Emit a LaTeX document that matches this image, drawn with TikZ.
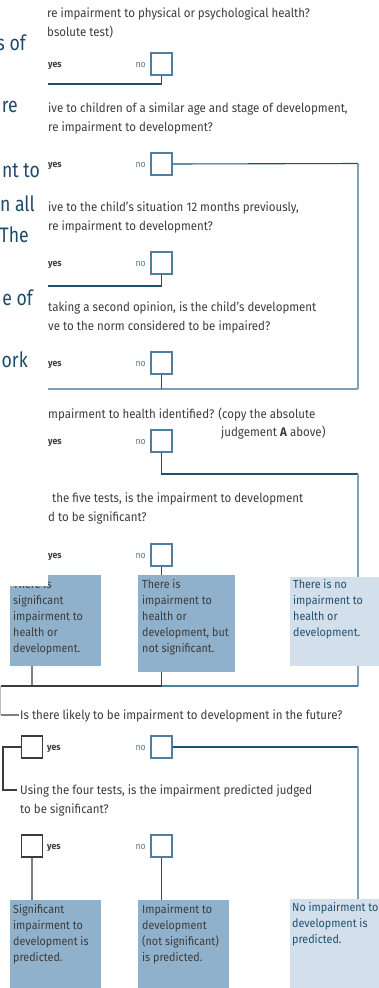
\documentclass[tikz,border=0pt]{standalone}
\usepackage{fontspec}
\setmainfont{Fira Sans}[FakeStretch=0.92]
\newfontfamily\headfont{Fira Sans}[FakeStretch=0.84]
\definecolor{navy}{HTML}{1F5173}
\definecolor{steel}{HTML}{4F7E9E}
\definecolor{pale}{HTML}{7FA1B7}
\definecolor{boxdark}{HTML}{90B1CB}
\definecolor{boxlight}{HTML}{D3DFEA}
\definecolor{ink}{HTML}{3C3C3C}
\definecolor{headblue}{HTML}{1E4A6A}
\tikzset{
  tickbox/.style={draw=steel, line width=1.3pt, fill=white, minimum width=21pt, minimum height=22pt, inner sep=0pt},
  yesbox/.style={tickbox, draw=ink},
  qtxt/.style={anchor=base west, align=left, inner sep=0pt, text=ink, font=\fontsize{12.5}{19}\selectfont},
  headtxt/.style={anchor=base east, inner sep=0pt, text=headblue, font=\headfont\fontsize{21}{25}\selectfont},
  yeslbl/.style={anchor=base west, inner sep=0pt, text=ink, font=\fontsize{9.5}{11}\selectfont\bfseries},
  nolbl/.style={anchor=base east, inner sep=0pt, text=steel, font=\fontsize{9.5}{11}\selectfont},
  outcome/.style={anchor=north west, fill=boxdark, inner sep=0pt},
  paleout/.style={outcome, fill=boxlight},
  boxtxt/.style={anchor=base west, align=left, inner sep=0pt, text=ink, font=\fontsize{11.7}{16}\selectfont},
  nopath/.style={draw=navy, line width=1.1pt},
  sidepath/.style={draw=pale, line width=1.3pt},
  yespath/.style={draw=gray, line width=1.1pt},
  darkpath/.style={draw=ink, line width=1.1pt}
}
\begin{document}
\begin{tikzpicture}[x=1pt,y=-1pt]
\useasboundingbox (0,0) rectangle (379,988);
% heading, cut off at the left
\node[headtxt] (h1) at (26,50) {s of};
\node[headtxt] (h2) at (18,112) {re};
\node[headtxt] (h3) at (40,177) {nt to};
\node[headtxt] (h4) at (35,211) {n all};
\node[headtxt] (h5) at (29,242) {The};
\node[headtxt] (h6) at (33,305) {e of};
\node[headtxt] (h7) at (28,367) {ork};

% questions (base = last line)
\node[qtxt] (q1) at (47,36) {re impairment to physical or psychological health?\\bsolute test)};
\node[qtxt] (q2) at (48,131) {ive to children of a similar age and stage of development,\\re impairment to development?};
\node[qtxt] (q3) at (48,230) {ive to the child's situation 12 months previously,\\re impairment to development?};
\node[qtxt] (q4) at (48,330) {taking a second opinion, is the child's development\\ve to the norm considered to be impaired?};
\node[qtxt] (q5) at (48,418) {mpairment to health identified? (copy the absolute};
\node[qtxt] (q5b) at (221,436) {judgement \textbf{A} above)};
\node[qtxt] (q6) at (52,502) {the five tests, is the impairment to development};
\node[qtxt] (q6b) at (48,521) {d to be significant?};
\node[qtxt] (q7) at (20,719) {Is there likely to be impairment to development in the future?};
\node[qtxt] (q8) at (20,813) {Using the four tests, is the impairment predicted judged\\to be significant?};

% tick boxes
\foreach \i/\y in {1/64,2/164,3/263,4/363,5/441,6/555,7/747,8/846}{
  \node[tickbox] (n\i) at (161.5,\y) {};
  \node[nolbl] at (146,\y+3) {no};
}
\foreach \i/\y in {1/64,2/164,3/263,4/363,5/441,6/555}
  \node[yeslbl] at (48,\y+3) {yes};
\node[yesbox] (y7) at (32,747) {};
\node[yesbox] (y8) at (32,846) {};
\node[yeslbl] at (47,750) {yes};
\node[yeslbl] at (47,849) {yes};

% outcomes
\node[outcome, minimum width=91pt, minimum height=91pt] (sig1) at (10,575) {};
\node[outcome, minimum width=97pt, minimum height=97pt] (part1) at (138,575) {};
\node[paleout, minimum width=89pt, minimum height=89pt] (none1) at (290,577) {};
\node[boxtxt] (sig1t) at (13,652) {There is\\significant\\impairment to\\health or\\development.};
\fill[white] (10,574) rectangle (48,586);
\node[boxtxt] (part1t) at (142,652) {There is\\impairment to\\health or\\development, but\\not significant.};
\node[boxtxt, text=navy] (none1t) at (293,636) {There is no\\impairment to\\health or\\development.};

\node[outcome, minimum width=91pt, minimum height=88pt] (sig2) at (10,900) {};
\node[outcome, minimum width=91pt, minimum height=88pt] (part2) at (138,900) {};
\node[paleout, minimum width=89pt, minimum height=89pt] (none2) at (290,899) {};
\node[boxtxt] (sig2t) at (13,961) {Significant\\impairment to\\development is\\predicted.};
\node[boxtxt] (part2t) at (142,961) {Impairment to\\development\\(not significant)\\is predicted.};
\node[boxtxt, text=navy] (none2t) at (292,943) {No impairment to\\development is\\predicted.};

% connectors
\coordinate (l1) at (48,84);
\coordinate (r2) at (358,163.5);
\coordinate (l3) at (48,286);
\coordinate (l4) at (48,389);
\coordinate (r4) at (358,389);
\coordinate (r5) at (358,474);
\coordinate (j0) at (0.5,686);
\coordinate (j) at (161.5,686);
\coordinate (k1) at (19,715);
\coordinate (k3) at (3,790);
\coordinate (k4) at (17,790);
\coordinate (r7) at (358,747);

\draw[nopath] (n1.south) |- (l1);
\draw[nopath] (n2.east) -- (r2);
\draw[sidepath] (r2) -- (r4);
\draw[nopath] (n3.south) |- (l3);
\draw[sidepath] (l4) -- (r4);
\draw[nopath] (n4.south) -- (n4.south |- l4);
\draw[nopath] (n5.south) |- (r5);
\draw[sidepath] (r5) -- (r5 |- none1.north);
\draw[nopath] (n6.south) -- (n6.south |- part1.north);

\draw[yespath] (y7 |- sig1.south) -- (y7 |- j);
\draw[nopath] (j |- part1.south) -- (j);
\draw[sidepath] (r5 |- none1.south) -- (r5 |- j);
\draw[steel, line width=1.1pt] (r5 |- j) -- (j);
\draw[darkpath] (j0) -- (j);
\draw[draw=gray!50, line width=1.1pt] (j0) -- (j0 |- k1);
\draw[yespath] (j0 |- k1) -- (k1);

\draw[darkpath] (y7.west) -| (k3) -- (k4);
\draw[nopath] (n7.east) -- (r7);
\draw[sidepath] (r7) -- (r7 |- none2.north);
\draw[yespath] (y8.south) -- (y8.south |- sig2.north);
\draw[nopath] (n8.south) -- (n8.south |- part2.north);
\end{tikzpicture}
\end{document}
